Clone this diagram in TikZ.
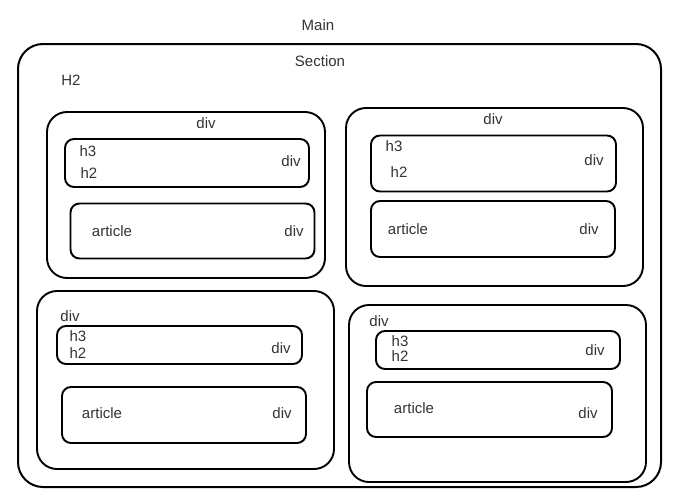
\documentclass[tikz,border=0pt]{standalone}
\usepackage{fontspec}
\setmainfont{Liberation Sans}
\usetikzlibrary{positioning}
\definecolor{inkgray}{HTML}{333333}

\begin{document}
\begin{tikzpicture}[
    x=1pt, y=-1pt,
    section/.style={rectangle, draw, line width=2pt, rounded corners=25pt, inner sep=0pt},
    block/.style={rectangle, draw, line width=1.9pt, rounded corners=20pt, inner sep=0pt},
    inner/.style={rectangle, draw, line width=1.9pt, rounded corners=9pt, inner sep=0pt},
    label/.style={font=\fontsize{15}{17}\selectfont, text=inkgray, inner sep=0pt}
]
    \useasboundingbox (0,0) rectangle (693,498);

    % Main and section
    \node[label] (main) at (318, 25) {Main};
    \node[section, minimum width=643pt, minimum height=443pt] (sec) at (339.5, 265.5) {};
    \node[label] (seclbl) at (320, 61) {Section};
    \node[label] (h2top) at (71, 80) {H2};

    % Top left div
    \node[block, minimum width=278pt, minimum height=166pt] (divA) at (186, 195) {};
    \node[label] (divAlbl) at (206, 123) {div};
    \node[inner, minimum width=244pt, minimum height=48pt] (headA) at (187, 163) {};
    \node[label] (h3A) at (88, 151) {h3};
    \node[label] (h2A) at (89, 173) {h2};
    \node[label] (headAlbl) at (291, 161) {div};
    \node[inner, minimum width=244pt, minimum height=55pt] (artA) at (192.5, 231) {};
    \node[label] (artAlbl) at (112, 231) {article};
    \node[label] (artAdiv) at (294, 231) {div};

    % Top right div
    \node[block, minimum width=297pt, minimum height=178pt] (divB) at (494.5, 197) {};
    \node[label] (divBlbl) at (493, 119) {div};
    \node[inner, minimum width=245pt, minimum height=56pt] (headB) at (493.5, 163.5) {};
    \node[label] (h3B) at (394, 146) {h3};
    \node[label] (h2B) at (399, 172) {h2};
    \node[label] (headBlbl) at (594, 160) {div};
    \node[inner, minimum width=244pt, minimum height=56pt] (artB) at (493, 229) {};
    \node[label] (artBlbl) at (408, 229) {article};
    \node[label] (artBdiv) at (589, 229) {div};

    % Bottom left div
    \node[block, minimum width=297pt, minimum height=178pt] (divC) at (185.5, 380) {};
    \node[label] (divClbl) at (70, 316) {div};
    \node[inner, minimum width=245pt, minimum height=38pt] (headC) at (179.5, 345) {};
    \node[label] (h3C) at (78, 336) {h3};
    \node[label] (h2C) at (78, 353) {h2};
    \node[label] (headClbl) at (281, 348) {div};
    \node[inner, minimum width=244pt, minimum height=56pt] (artC) at (184, 415) {};
    \node[label] (artClbl) at (102, 413) {article};
    \node[label] (artCdiv) at (282, 413) {div};

    % Bottom right div
    \node[block, minimum width=297pt, minimum height=177pt] (divD) at (497.5, 393.5) {};
    \node[label] (divDlbl) at (379, 321) {div};
    \node[inner, minimum width=244pt, minimum height=38pt] (headD) at (498, 350) {};
    \node[label] (h3D) at (400, 341) {h3};
    \node[label] (h2D) at (400, 356) {h2};
    \node[label] (headDlbl) at (595, 350) {div};
    \node[inner, minimum width=245pt, minimum height=55pt] (artD) at (489.5, 409.5) {};
    \node[label] (artDlbl) at (414, 408) {article};
    \node[label] (artDdiv) at (588, 413) {div};
\end{tikzpicture}
\end{document}
